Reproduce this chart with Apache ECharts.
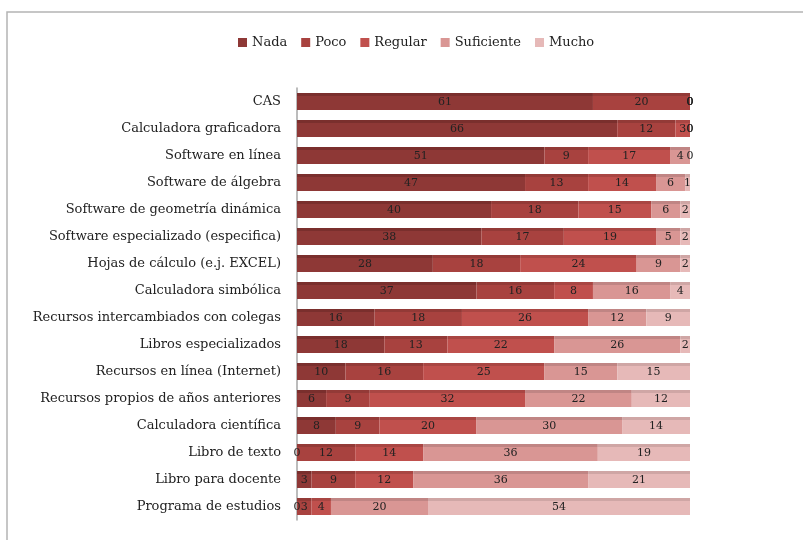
<!DOCTYPE html>
<html>
<head>
<meta charset="utf-8">
<script src="https://cdn.jsdelivr.net/npm/echarts@6/dist/echarts.min.js"></script>
<style>
  html, body { margin: 0; padding: 0; background: #fff; }
</style>
</head>
<body>
<div id="main" style="width: 803px;height:540px;"></div>
<script>
var categorias = [
  'CAS',
  'Calculadora graficadora',
  'Software en línea',
  'Software de álgebra',
  'Software de geometría dinámica',
  'Software especializado (especifica)',
  'Hojas de cálculo (e.j. EXCEL)',
  'Calculadora simbólica',
  'Recursos intercambiados con colegas',
  'Libros especializados',
  'Recursos en línea (Internet)',
  'Recursos propios de años anteriores',
  'Calculadora científica',
  'Libro de texto',
  'Libro para docente',
  'Programa de estudios'
]
// valores de arriba hacia abajo
var nada       = [61, 66, 51, 47, 40, 38, 28, 37, 16, 18, 10, 6, 8, 0, 3, 0]
var poco       = [20, 12, 9, 13, 18, 17, 18, 16, 18, 13, 16, 9, 9, 12, 9, 3]
var regular    = [0, 3, 17, 14, 15, 19, 24, 8, 26, 22, 25, 32, 20, 14, 12, 4]
var suficiente = [0, 0, 4, 6, 6, 5, 9, 16, 12, 26, 15, 22, 30, 36, 36, 20]
var mucho      = [0, 0, 0, 1, 2, 2, 2, 4, 9, 2, 15, 12, 14, 19, 21, 54]

var nombres = ['Nada', 'Poco', 'Regular', 'Suficiente', 'Mucho']
var colores = ['#8e3836', '#a8423f', '#c0504d', '#d99694', '#e6b9b8']
var topes   = ['#7a2f2d', '#933a37', '#a94643', '#c08584', '#cfa6a5']
var datos = [nada, poco, regular, suficiente, mucho]

var myChart = echarts.init(document.getElementById('main'))
var fuente = 'DejaVu Serif'

var seriesList = []
for (var i = 0; i < nombres.length; i++) {
  seriesList.push({
    name: nombres[i],
    type: 'bar',
    stack: 'total',
    barWidth: 17,
    data: datos[i],
    itemStyle: {
      color: {
        type: 'linear', x: 0, y: 0, x2: 0, y2: 1,
        colorStops: [
          { offset: 0, color: topes[i] },
          { offset: 0.18, color: topes[i] },
          { offset: 0.19, color: colores[i] },
          { offset: 1, color: colores[i] }
        ]
      }
    },
    label: {
      show: true,
      position: 'inside',
      offset: [0, 1],
      color: '#222',
      fontFamily: fuente,
      fontSize: 11
    }
  })
}

var option = {
  animation: false,
  legend: {
    data: nombres.map(function (n, i) {
      return { name: n, itemStyle: { color: colores[i] } }
    }),
    top: 31,
    left: 233,
    itemWidth: 9,
    itemHeight: 9,
    itemGap: 14,
    icon: 'rect',
    textStyle: { fontFamily: fuente, fontSize: 13, color: '#222' }
  },
  graphic: [{
    type: 'rect',
    shape: { x: 7, y: 12, width: 900, height: 700 },
    style: { fill: 'none', stroke: '#b4b4b4', lineWidth: 1.5 },
    silent: true
  }],
  grid: {
    left: 297,
    right: 113,
    top: 88,
    bottom: 20,
    containLabel: false
  },
  xAxis: {
    type: 'value',
    min: 0,
    max: 81,
    show: false
  },
  yAxis: {
    type: 'category',
    inverse: true,
    data: categorias,
    axisLine: { show: true, lineStyle: { color: '#a6a6a6', width: 1.5 } },
    axisTick: { show: false },
    axisLabel: {
      margin: 12,
      fontFamily: fuente,
      fontSize: 13,
      color: '#222'
    },
    offset: 4
  },
  series: seriesList
}
myChart.setOption(option)
</script>
</body>
</html>
